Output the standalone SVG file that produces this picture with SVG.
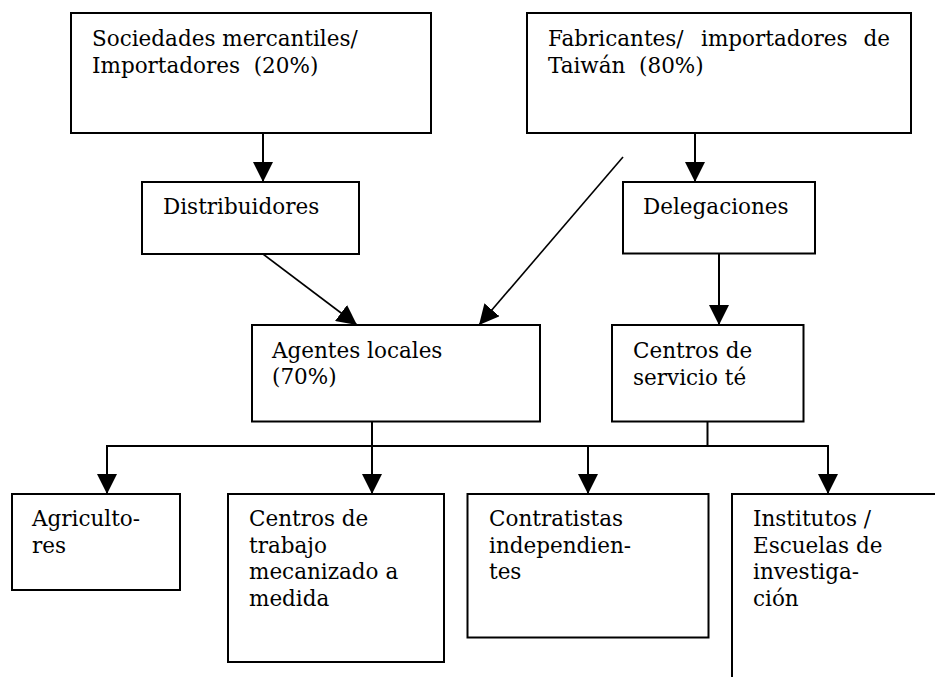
<svg xmlns="http://www.w3.org/2000/svg" width="935" height="677" viewBox="0 0 935 677">
<style>
.box{fill:#fff;stroke:#000;stroke-width:2}
.t{font-family:"DejaVu Serif","Liberation Serif",serif;font-size:21.5px;fill:#000}
.c{fill:none;stroke:#000;stroke-width:2}
.d{fill:none;stroke:#000;stroke-width:1.6}
</style>
<defs>
<marker id="ah" markerUnits="userSpaceOnUse" markerWidth="20" markerHeight="20" viewBox="0 0 20 20" refX="20" refY="10" orient="auto">
<path d="M0,0 L20,10 L0,20 z" fill="#000"/>
</marker>
</defs>
<rect width="935" height="677" fill="#fff"/>
<g id="connectors">
<line class="c" x1="263" y1="133" x2="263" y2="182" marker-end="url(#ah)"/>
<line class="c" x1="695" y1="133" x2="695" y2="182" marker-end="url(#ah)"/>
<line class="d" x1="263" y1="254" x2="357" y2="325" marker-end="url(#ah)"/>
<line class="d" x1="623" y1="157" x2="479" y2="325" marker-end="url(#ah)"/>
<line class="c" x1="719" y1="253" x2="719" y2="325" marker-end="url(#ah)"/>
<line class="c" x1="107" y1="446" x2="828" y2="446"/>
<line class="c" x1="372" y1="421" x2="372" y2="494" marker-end="url(#ah)"/>
<line class="c" x1="707.5" y1="421" x2="707.5" y2="446"/>
<line class="c" x1="107" y1="445" x2="107" y2="494" marker-end="url(#ah)"/>
<line class="c" x1="588" y1="445" x2="588" y2="494" marker-end="url(#ah)"/>
<line class="c" x1="828" y1="445" x2="828" y2="494" marker-end="url(#ah)"/>
</g>
<g id="sociedades">
<rect class="box" x="71" y="13" width="360" height="120"/>
<text class="t" x="92" y="46">Sociedades mercantiles/</text>
<text class="t" x="92" y="72.7" xml:space="preserve">Importadores  (20%)</text>
</g>
<g id="fabricantes">
<rect class="box" x="527" y="13" width="384" height="120"/>
<text class="t" x="548" y="46">Fabricantes/</text>
<text class="t" x="701" y="46">importadores</text>
<text class="t" x="890" y="46" text-anchor="end">de</text>
<text class="t" x="548" y="72.7" xml:space="preserve">Taiwán  (80%)</text>
</g>
<g id="distribuidores">
<rect class="box" x="142" y="182" width="217" height="72"/>
<text class="t" x="163" y="213.5">Distribuidores</text>
</g>
<g id="delegaciones">
<rect class="box" x="623" y="182" width="192" height="71.5"/>
<text class="t" x="643" y="214">Delegaciones</text>
</g>
<g id="agentes">
<rect class="box" x="252" y="325" width="288" height="96.5"/>
<text class="t" x="272" y="357.5">Agentes locales</text>
<text class="t" x="272" y="384.2">(70%)</text>
</g>
<g id="centros-servicio">
<rect class="box" x="612" y="325" width="191.5" height="96.5"/>
<text class="t" x="633" y="358">Centros de</text>
<text class="t" x="633" y="384.5">servicio té</text>
</g>
<g id="agricultores">
<rect class="box" x="12" y="494" width="168" height="96"/>
<text class="t" x="32" y="526">Agriculto-</text>
<text class="t" x="32" y="552.7">res</text>
</g>
<g id="centros-trabajo">
<rect class="box" x="228" y="494" width="216" height="168"/>
<text class="t" x="249" y="526">Centros de</text>
<text class="t" x="249" y="552.7">trabajo</text>
<text class="t" x="249" y="579.3">mecanizado a</text>
<text class="t" x="249" y="606">medida</text>
</g>
<g id="contratistas">
<rect class="box" x="467.5" y="494" width="241" height="143.5"/>
<text class="t" x="489" y="526">Contratistas</text>
<text class="t" x="489" y="552.7">independien-</text>
<text class="t" x="489" y="579.3">tes</text>
</g>
<g id="institutos">
<rect class="box" x="732" y="494" width="260" height="240"/>
<text class="t" x="753" y="526">Institutos /</text>
<text class="t" x="753" y="552.7">Escuelas de</text>
<text class="t" x="753" y="579.3">investiga-</text>
<text class="t" x="753" y="606">ción</text>
</g>
</svg>
